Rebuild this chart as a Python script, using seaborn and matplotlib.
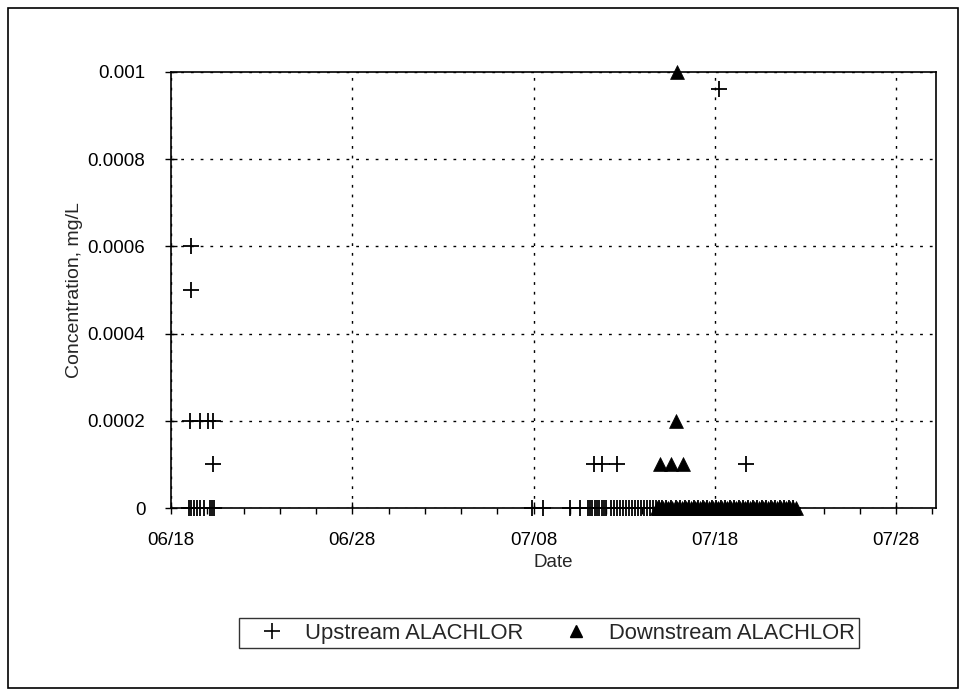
import matplotlib
matplotlib.use("Agg")
import matplotlib.pyplot as plt
import matplotlib.dates as mdates
from matplotlib.patches import Rectangle
from matplotlib.lines import Line2D
import seaborn as sns
import pandas as pd

# ---- data ----
up_times = [
    "06-19 00", "06-19 03", "06-19 06", "06-19 10", "06-19 14", "06-19 20",
    "06-20 03", "06-20 06", "06-20 09",
    "07-07 22", "07-08 12", "07-10 00", "07-10 14",
    "07-11 00", "07-11 03", "07-11 06", "07-11 09", "07-11 12", "07-11 15", "07-11 18", "07-11 21",
    "07-12 00", "07-12 06", "07-12 10", "07-12 14", "07-12 18", "07-12 22",
    "07-13 02", "07-13 06", "07-13 10", "07-13 14", "07-13 18", "07-13 22",
    "07-14 02", "07-14 06", "07-14 10", "07-14 14", "07-14 18", "07-14 22",
    "07-15 02", "07-15 08", "07-15 14", "07-15 20",
    "07-16 02", "07-16 08", "07-16 14", "07-16 20",
    "07-17 02", "07-17 08", "07-17 14", "07-17 20",
    "07-18 02", "07-18 08", "07-18 14", "07-18 20",
    "07-19 02", "07-19 08", "07-19 14", "07-19 20",
    "07-20 02", "07-20 08", "07-20 14", "07-20 20",
    "07-21 02", "07-21 08", "07-21 14", "07-21 20",
    "07-22 02", "07-22 08",
    # non-zero detections
    "06-19 02", "06-19 02", "06-19 01", "06-19 14", "06-20 01", "06-20 08", "06-20 08",
    "07-11 08", "07-11 18", "07-12 14", "07-18 06", "07-19 17",
]
up_vals = [0.0] * 69 + [
    0.0006, 0.0005, 0.0002, 0.0002, 0.0002, 0.0002, 0.0001,
    0.0001, 0.0001, 0.0001, 0.00096, 0.0001,
]

down_times = [
    "07-14 19", "07-14 22", "07-15 01", "07-15 04", "07-15 07", "07-15 10", "07-15 13", "07-15 16",
    "07-15 19", "07-15 22", "07-16 01", "07-16 04", "07-16 07", "07-16 10", "07-16 13", "07-16 16",
    "07-16 19", "07-16 22", "07-17 01", "07-17 04", "07-17 07", "07-17 10", "07-17 13", "07-17 16",
    "07-17 19", "07-17 22", "07-18 01", "07-18 04", "07-18 07", "07-18 10", "07-18 13", "07-18 16",
    "07-18 19", "07-18 22", "07-19 01", "07-19 04", "07-19 07", "07-19 10", "07-19 13", "07-19 16",
    "07-19 19", "07-19 22", "07-20 01", "07-20 04", "07-20 07", "07-20 10", "07-20 13", "07-20 16",
    "07-20 19", "07-20 22", "07-21 01", "07-21 04", "07-21 07", "07-21 10", "07-21 13", "07-21 16",
    "07-21 19", "07-21 22", "07-22 01", "07-22 04", "07-22 07", "07-22 11",
    # non-zero detections
    "07-15 00", "07-15 14", "07-16 06", "07-15 20", "07-15 22",
]
down_vals = [0.0] * 62 + [0.0001, 0.0001, 0.0001, 0.0002, 0.001]

x_ticks = ["06-18 00", "06-28 00", "07-08 00", "07-18 00", "07-28 00"]
y_ticks = [0, 0.0002, 0.0004, 0.0006, 0.0008, 0.001]
y_tick_labels = ["0", "0.0002", "0.0004", "0.0006", "0.0008", "0.001"]
series_names = ["Upstream ALACHLOR", "Downstream ALACHLOR"]

fmt = "%m-%d %H"
up = pd.DataFrame({"Date": pd.to_datetime(up_times, format=fmt), "Concentration": up_vals})
down = pd.DataFrame({"Date": pd.to_datetime(down_times, format=fmt), "Concentration": down_vals})

# ---- figure ----
sns.set_theme(style="white")
plt.rcParams["font.family"] = ["Liberation Sans", "DejaVu Sans"]

fig = plt.figure(figsize=(9.67, 6.96), dpi=100)
fig.patch.set_facecolor("white")
ax = fig.add_axes([0.1769, 0.270, 0.7911, 0.6266])

sns.scatterplot(data=up, x="Date", y="Concentration", marker="+", s=130,
                color="black", linewidth=1.3, ax=ax, clip_on=False, zorder=3)
sns.scatterplot(data=down, x="Date", y="Concentration", marker="^", s=100,
                color="black", edgecolor="black", linewidth=0.5, ax=ax, clip_on=False, zorder=4)

ax.set_ylim(0, 0.001)
ax.set_xlim(pd.to_datetime("06-18 00", format=fmt), pd.to_datetime("07-30 05", format=fmt))
ax.set_xticks(pd.to_datetime(x_ticks, format=fmt))
ax.xaxis.set_minor_locator(mdates.DayLocator(interval=2))
ax.xaxis.set_major_formatter(mdates.DateFormatter("%m/%d"))
ax.set_yticks(y_ticks)
ax.set_yticklabels(y_tick_labels)

ax.grid(True, which="major", color="black", linestyle=(0, (2, 5)), linewidth=1.0)
ax.set_axisbelow(True)
for sp in ax.spines.values():
    sp.set_visible(True)
    sp.set_color("black")
    sp.set_linewidth(1.2)
ax.tick_params(axis="both", which="major", direction="inout", length=9, width=1, colors="black",
               labelsize=13.5, bottom=True, left=True)
ax.tick_params(axis="y", which="major", pad=14)
ax.tick_params(axis="x", which="major", pad=13)
ax.tick_params(axis="x", which="minor", direction="out", length=4, width=1, colors="black", bottom=True)

ax.set_xlabel("Date", fontsize=13.5, labelpad=3)
ax.set_ylabel("Concentration, mg/L", fontsize=14, labelpad=3)

handles = [
    Line2D([], [], marker="+", linestyle="none", color="black", markersize=11, markeredgewidth=1.2),
    Line2D([], [], marker="^", linestyle="none", color="black", markersize=8),
]
leg = fig.legend(handles, series_names, loc="center", bbox_to_anchor=(0.568, 0.0905),
                 ncol=2, frameon=True, fancybox=False, edgecolor="black", fontsize=15.8,
                 handletextpad=0.2, columnspacing=1.1, borderpad=0.2, borderaxespad=0,
                 handlelength=2.6)
leg.get_frame().set_linewidth(1.0)

fig.patches.append(Rectangle((8 / 967, 8 / 696), 950 / 967, 680 / 696, transform=fig.transFigure,
                             fill=False, edgecolor="black", linewidth=1.2))

fig.savefig("out.png", dpi=100, facecolor="white")
